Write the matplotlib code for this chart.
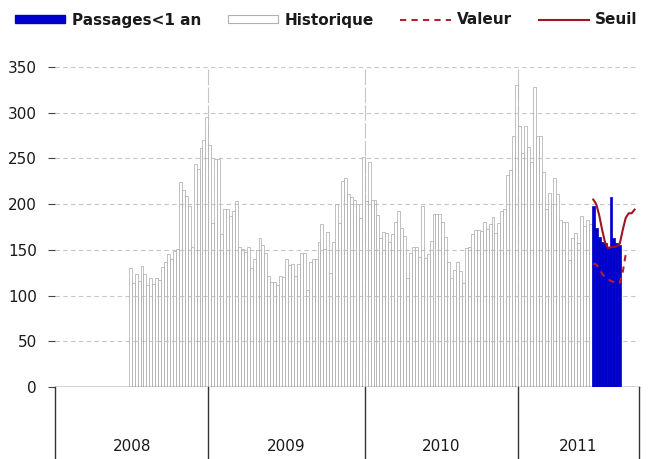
import numpy as np
import matplotlib.pyplot as plt
from matplotlib.patches import Patch
from matplotlib.lines import Line2D

# weekly series, week index 0 = first week of 2008
years = ["2008", "2009", "2010", "2011"]
weeks_per_year = [52, 53, 52, 41]

hist_first_week = 25
historique = [
    # 2008
    130, 114, 124, 116, 132, 124, 112, 119, 113, 119,
    117, 131, 137, 145, 140, 149, 151, 224, 215, 209,
    198, 153, 244, 238, 261, 270, 295,
    # 2009
    265, 179, 249, 249, 167, 195, 195, 187, 192, 203,
    153, 151, 148, 153, 130, 140, 150, 163, 155, 147,
    121, 115, 115, 112, 121, 120, 140, 133, 134, 121,
    135, 147, 147, 106, 137, 140, 140, 159, 178, 151,
    169, 125, 159, 200, 179, 225, 229, 211, 208, 205,
    200, 185, 252,
    # 2010
    203, 246, 205, 204, 188, 163, 169, 168, 159, 167,
    180, 192, 174, 165, 119, 147, 153, 153, 142, 198,
    141, 145, 160, 189, 189, 189, 180, 164, 137, 119,
    128, 137, 127, 114, 152, 153, 167, 172, 172, 171,
    180, 173, 178, 186, 168, 179, 193, 195, 232, 237,
    274, 330,
    # 2011
    285, 256, 285, 263, 246, 328, 274, 274, 235, 195,
    212, 200, 229, 211, 183, 180, 180, 139, 163, 168,
    158, 187, 176, 183, 178,
]

passages_first_week = 182
passages = [198, 174, 164, 159, 158, 152, 208, 163, 157, 155]

seuil_first_week = 182
seuil = [205, 200, 188, 172, 158, 152, 153, 153, 154, 157, 172, 185, 190, 190, 194]

valeur_first_week = 182
valeur = [135, 134, 130, 124, 120, 118, 116, 115, 113, 114, 126, 145]

blue = "#0000cc"
red_val = "#b3202e"
red_seuil = "#9e1626"
grid_col = "#c6c6c6"
txt = "#1a1a1a"

plt.rcParams["font.family"] = "DejaVu Sans"

fig = plt.figure(figsize=(6.48, 4.59), dpi=100)
ax = fig.add_axes([55 / 648, 72 / 459, 584 / 648, 320 / 459])
axb = fig.add_axes([55 / 648, 0, 584 / 648, 72 / 459])

bounds = np.concatenate([[0], np.cumsum(weeks_per_year)])

x_hist = np.arange(len(historique)) + hist_first_week
ax.bar(x_hist, historique, width=1, align="edge", facecolor="none",
       edgecolor="#b7b7b7", linewidth=0.6, zorder=2)

x_pass = np.arange(len(passages)) + passages_first_week
ax.bar(x_pass, passages, width=1, align="edge", color=blue,
       edgecolor=blue, linewidth=0.5, zorder=3)

x_val = np.arange(len(valeur)) + valeur_first_week + 0.5
ax.plot(x_val, valeur, color=red_val, lw=1.5, linestyle=(0, (3, 2.5)), zorder=4)

x_seuil = np.arange(len(seuil)) + seuil_first_week + 0.5
ax.plot(x_seuil, seuil, color=red_seuil, lw=1.5, zorder=5)

ax.set_xlim(bounds[0], bounds[-1])
ax.set_ylim(0, 350)
ax.set_yticks(range(0, 351, 50))
ax.set_xticks(bounds[1:-1])
ax.set_xticklabels([])
ax.tick_params(axis="x", length=0)
ax.tick_params(axis="y", length=5, color="#444444", labelsize=11,
               labelcolor=txt, pad=8)
ax.yaxis.grid(True, color=grid_col, linestyle=(0, (4, 3)), lw=0.8, zorder=0)
ax.xaxis.grid(True, color=grid_col, linestyle=(0, (14, 2)), lw=0.8, zorder=0)
ax.set_axisbelow(True)
for s in ["top", "right", "left"]:
    ax.spines[s].set_visible(False)
ax.spines["bottom"].set_color("#333333")
ax.spines["bottom"].set_linewidth(1.0)

# year band under the axis
axb.set_xlim(bounds[0], bounds[-1])
axb.set_ylim(0, 1)
for b in bounds[1:-1]:
    axb.axvline(b, color="#333333", lw=1.0)
for s in ["top", "bottom"]:
    axb.spines[s].set_visible(False)
for s in ["left", "right"]:
    axb.spines[s].set_color("#333333")
    axb.spines[s].set_linewidth(1.0)
axb.set_xticks([])
axb.set_yticks([])
mids = (bounds[:-1] + bounds[1:]) / 2
for m, y in zip(mids, years):
    axb.text(m, 0.17, y, ha="center", va="center", fontsize=11, color=txt)

handles = [
    Patch(facecolor=blue, edgecolor=blue),
    Patch(facecolor="white", edgecolor="#b0b0b0", linewidth=0.8),
    Line2D([], [], color=red_val, lw=1.5, linestyle=(0, (3, 2.5))),
    Line2D([], [], color=red_seuil, lw=1.5),
]
labels = ["Passages<1 an", "Historique", "Valeur", "Seuil"]
fig.legend(handles, labels, loc="center left", bbox_to_anchor=(15 / 648, 1 - 20 / 459),
           ncol=4, frameon=False, handlelength=3.3, handleheight=0.5,
           handletextpad=0.4, columnspacing=1.75, borderpad=0, borderaxespad=0,
           prop={"size": 11, "weight": "bold"}, labelcolor=txt)

fig.savefig("out.png", dpi=100)
